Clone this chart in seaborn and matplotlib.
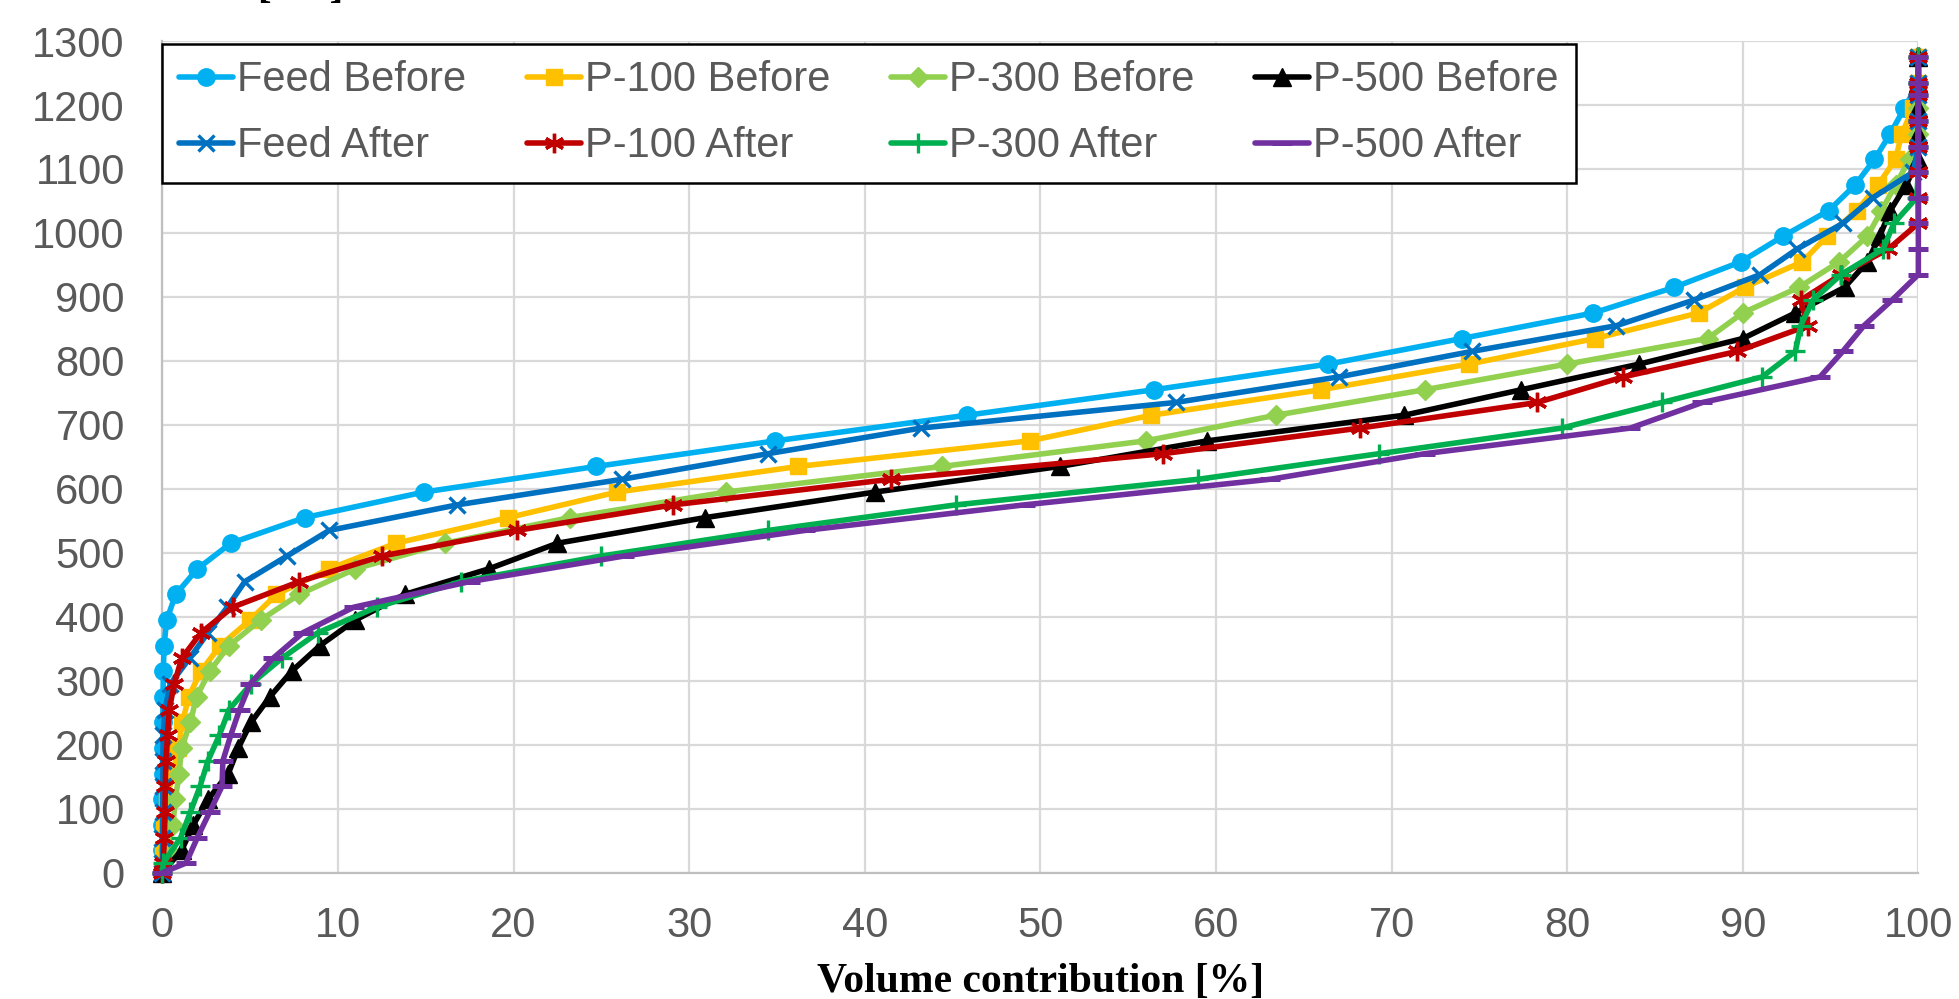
import matplotlib
matplotlib.use("Agg")
import matplotlib.pyplot as plt
import seaborn as sns

# ---- data -------------------------------------------------------------
before_sizes = [0, 35, 75, 115, 155, 195, 235, 275, 315, 355, 395, 435, 475, 515, 555,
                595, 635, 675, 715, 755, 795, 835, 875, 915, 955, 995, 1035, 1075, 1115,
                1155, 1195, 1235, 1275]
after_sizes = [0, 15, 55, 95, 135, 175, 215, 255, 295, 335, 375, 415, 455, 495, 535,
               575, 615, 655, 695, 735, 775, 815, 855, 895, 935, 975, 1015, 1055, 1095,
               1135, 1175, 1215, 1235, 1275]

feed_before = [0, 0.005, 0.01, 0.01, 0.015, 0.02, 0.03, 0.04, 0.06, 0.1, 0.25, 0.76, 2.0,
               3.9, 8.1, 14.9, 24.7, 34.9, 45.8, 56.5, 66.4, 74.0, 81.5, 86.1, 89.9, 92.3,
               94.9, 96.4, 97.5, 98.4, 99.2, 100, 100]
p100_before = [0, 0.03, 0.1, 0.25, 0.6, 0.9, 1.15, 1.5, 2.2, 3.3, 5.0, 6.5, 9.5, 13.3,
               19.7, 25.9, 36.2, 49.4, 56.3, 66.0, 74.4, 81.6, 87.5, 90.1, 93.4, 94.8,
               96.5, 97.7, 98.7, 99.05, 99.7, 100, 100]
p300_before = [0, 0.3, 0.6, 0.75, 0.95, 1.1, 1.6, 1.95, 2.7, 3.8, 5.6, 7.8, 11.0, 16.1,
               23.2, 32.1, 44.4, 56.0, 63.4, 71.9, 80.0, 88.0, 90.0, 93.2, 95.5, 97.1,
               97.9, 98.7, 99.5, 100, 100, 100, 100]
p500_before = [0, 1.1, 1.77, 2.62, 3.76, 4.33, 5.05, 6.13, 7.37, 8.98, 11.0, 13.8, 18.6,
               22.5, 30.9, 40.6, 51.1, 59.5, 70.7, 77.4, 84.1, 90.0, 93.0, 95.8, 97.1,
               97.8, 98.4, 99.3, 100, 100, 100, 100, 100]
feed_after = [0, 0.005, 0.01, 0.015, 0.02, 0.03, 0.05, 0.15, 0.45, 1.55, 2.6, 3.7, 4.7,
              7.1, 9.5, 16.8, 26.2, 34.5, 43.2, 57.7, 67.0, 74.6, 82.8, 87.2, 91.0, 93.1,
              95.7, 97.4, 99.7, 100, 100, 100, 100, 100]
p100_after = [0, 0.05, 0.12, 0.15, 0.17, 0.2, 0.3, 0.4, 0.68, 1.1, 2.2, 4.0, 7.8, 12.5,
              20.2, 29.1, 41.5, 57.0, 68.2, 78.3, 83.2, 89.7, 93.7, 93.3, 95.6, 98.3,
              100, 100, 100, 100, 100, 100, 100, 100]
p300_after = [0, 0.06, 1.05, 1.6, 2.15, 2.6, 3.25, 3.8, 5.05, 6.8, 8.85, 12.2, 17.0, 25.0,
              34.5, 45.2, 59.0, 69.3, 79.7, 85.4, 91.1, 93.0, 93.3, 94.0, 95.6, 98.0,
              98.6, 99.9, 100, 100, 100, 100, 100, 100]
p500_after = [0, 1.35, 2.0, 2.7, 3.4, 3.45, 3.9, 4.4, 5.0, 6.3, 8.0, 10.9, 17.5, 26.3,
              36.6, 49.1, 63.1, 71.9, 83.6, 87.7, 94.4, 95.7, 96.9, 98.5, 100, 100, 100,
              100, 100, 100, 100, 100, 100, 100]

series_names = ["Feed Before", "P-100 Before", "P-300 Before", "P-500 Before",
                "Feed After", "P-100 After", "P-300 After", "P-500 After"]
series_x = [feed_before, p100_before, p300_before, p500_before,
            feed_after, p100_after, p300_after, p500_after]
series_y = [before_sizes] * 4 + [after_sizes] * 4
colors = ["#00B0F0", "#FFC000", "#92D050", "#000000",
          "#0070C0", "#C00000", "#00B050", "#7030A0"]
markers = ["o", "s", "D", "^", "x", (6, 2, 0), "+", "_"]
msizes = [12.5, 11.5, 10, 13, 12, 14, 14, 14]
mews = [1, 1, 1, 1, 2.4, 2.4, 2.4, 3.6]

x_ticks = list(range(0, 101, 10))
y_ticks = list(range(0, 1301, 100))

# ---- style ------------------------------------------------------------
sns.set_theme(style="white")
plt.rcParams['font.family'] = ['Liberation Sans', 'DejaVu Sans']
tick_color = "#595959"
grid_color = "#D9D9D9"

fig = plt.figure(figsize=(19.59, 9.99), dpi=100)
ax = fig.add_axes([0.08285, 0.12643, 0.8964, 0.8325])

for i, (name, xs, ys, c, m, ms, mew) in enumerate(
        zip(series_names, series_x, series_y, colors, markers, msizes, mews)):
    sns.lineplot(x=xs, y=ys, ax=ax, sort=False, estimator=None, errorbar=None,
                 color=c, linewidth=4.0, marker=m, markersize=ms,
                 markerfacecolor=c, markeredgecolor=c, markeredgewidth=mew,
                 label=name, clip_on=False, zorder=3 + i)

ax.set_xlim(0, 100)
ax.set_ylim(0, 1300)
ax.set_xticks(x_ticks)
ax.set_yticks(y_ticks)
ax.grid(True, color=grid_color, linewidth=1.6)
ax.set_axisbelow(True)
for s in ["top", "right"]:
    ax.spines[s].set_visible(False)
for s in ["left", "bottom"]:
    ax.spines[s].set_color("#BFBFBF")
    ax.spines[s].set_linewidth(1.6)
ax.tick_params(axis="both", labelsize=30, colors=tick_color, length=0)
ax.tick_params(axis="x", pad=24)
ax.tick_params(axis="y", pad=27)

serif = ['Liberation Serif', 'DejaVu Serif']
ax.set_xlabel("Volume contribution [%]", fontsize=30, fontweight="bold",
              family=serif, color="black", va="baseline")
ax.xaxis.set_label_coords(0.5, -0.1434)
ax.set_ylabel("Particle size [nm]", fontsize=30, fontweight="bold", family=serif,
              color="black", rotation=0, ha="right", va="baseline")
ax.yaxis.set_label_coords(0.1029, 1.0529)

# legend: row-wise order as in reference (matplotlib fills columns first)
handles, labels = ax.get_legend_handles_labels()
order = [0, 4, 1, 5, 2, 6, 3, 7]
leg = ax.legend([handles[k] for k in order], [labels[k] for k in order],
                ncol=4, loc="upper left", bbox_to_anchor=(0, 0.997), borderaxespad=0,
                fontsize=30, frameon=True, fancybox=False, edgecolor="black",
                handlelength=1.3, handletextpad=0.1, columnspacing=1.45,
                labelspacing=0.63, borderpad=0.4, labelcolor=tick_color,
                framealpha=1)
leg.get_frame().set_linewidth(1.8)
leg.set_zorder(30)

fig.savefig("out.png", dpi=100)
